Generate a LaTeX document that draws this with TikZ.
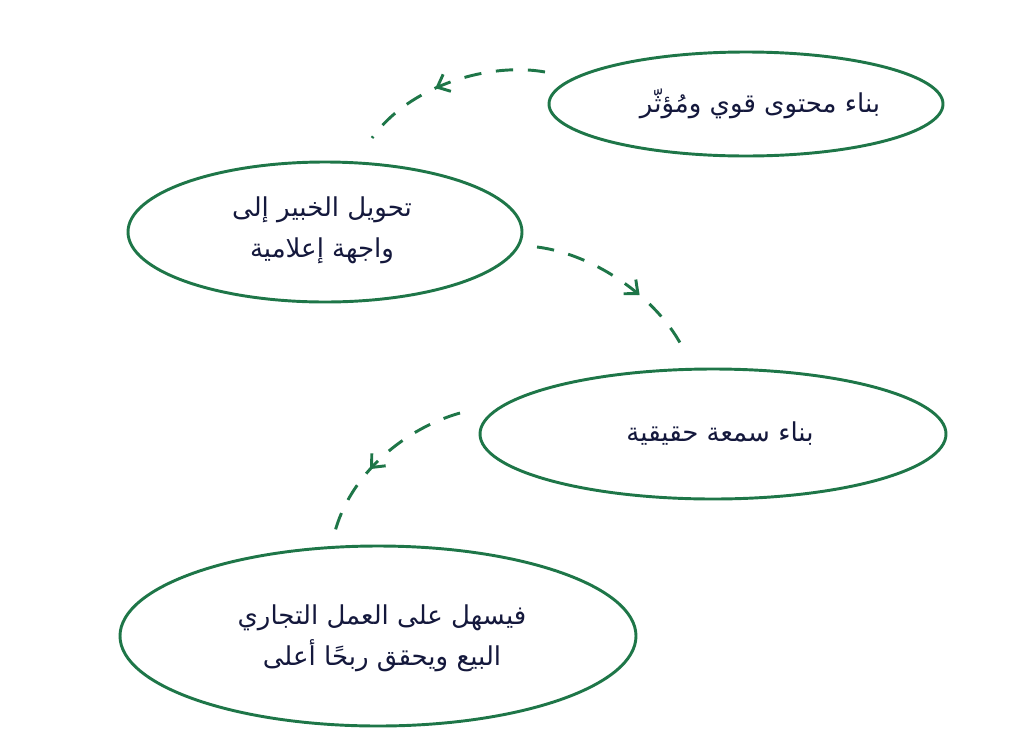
\documentclass[tikz,border=0pt]{standalone}
\usepackage{fontspec}
\newfontfamily\arabicfont[Script=Arabic]{DejaVu Sans}
\usetikzlibrary{arrows.meta,decorations.markings}
\definecolor{gr}{RGB}{30,118,72}
\definecolor{tx}{RGB}{20,24,60}
\TeXXeTstate=1
\newcommand{\ar}[1]{\beginR #1\endR}
\begin{document}
\begin{tikzpicture}[x=0.75pt,y=-0.75pt,
  lbl/.style={text=tx,font=\arabicfont\fontsize{19.5}{31}\selectfont,align=center},
  con/.style={draw=gr,line width=2.2pt,dash pattern=on 13pt off 11pt,
    postaction={decorate,solid},decoration={markings,mark=at position #1 with {\arrow[gr]{Straight Barb[length=8pt,width=14pt,line width=2.2pt]}}}}]
\useasboundingbox (0,0) rectangle (1024,743);
\draw[gr,line width=2.2pt] (746,104) ellipse [x radius=197,y radius=52];
\draw[gr,line width=2.2pt] (325,232) ellipse [x radius=197,y radius=70];
\draw[gr,line width=2.2pt] (713,434) ellipse [x radius=233,y radius=65];
\draw[gr,line width=2.2pt] (378,636) ellipse [x radius=258,y radius=90];
\node[lbl] (n1) at (760,104) {\ar{بناء محتوى قوي ومُؤثّر}};
\node[lbl] (n2) at (322,230) {\ar{تحويل الخبير إلى}\\\ar{واجهة إعلامية}};
\node[lbl] (n3) at (720,434) {\ar{بناء سمعة حقيقية}};
\node[lbl] (n4) at (382,638) {\ar{فيسهل على العمل التجاري}\\\ar{البيع ويحقق ربحًا أعلى}};
\coordinate (a1) at (545,72); \coordinate (a2) at (372,138);
\coordinate (b1) at (537,247); \coordinate (b2) at (686,355);
\coordinate (c1) at (460,413); \coordinate (c2) at (333,540);
\draw[con=0.58] (a1) .. controls (490,62) and (410,85) .. (a2);
\draw[con=0.6] (b1) .. controls (600,255) and (665,305) .. (b2);
\draw[con=0.57] (c1) .. controls (400,430) and (345,480) .. (c2);
\end{tikzpicture}
\end{document}
